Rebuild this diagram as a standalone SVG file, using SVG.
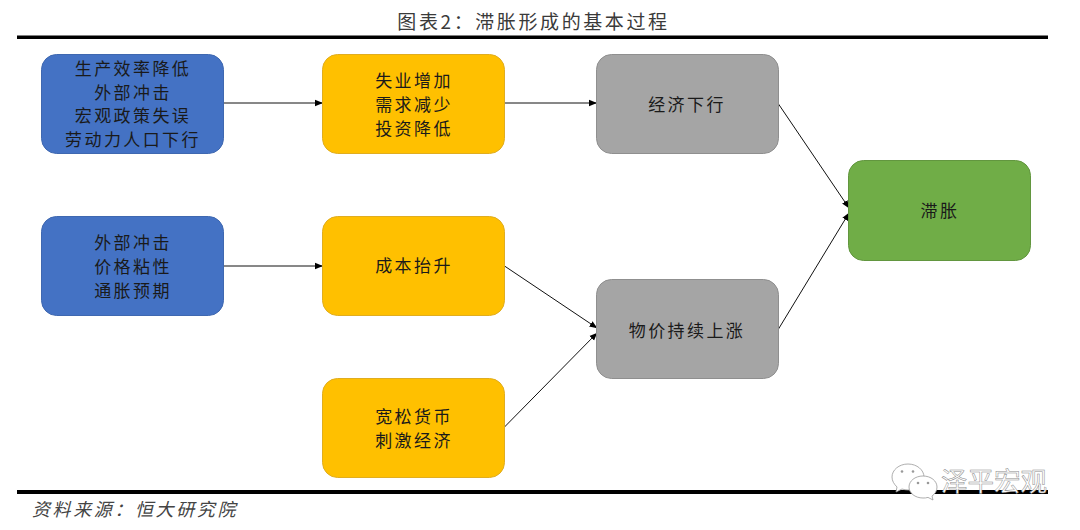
<svg xmlns="http://www.w3.org/2000/svg" width="1080" height="530" viewBox="0 0 1080 530">
<style>
text{font-family:"Noto Sans CJK SC","Liberation Serif",serif;font-weight:400}
.n{font-size:17px;letter-spacing:2.4px;text-anchor:middle;fill:#1a1a1a}
.b{stroke-width:1;rx:15px;ry:15px}
.blue{fill:#4472c4;stroke:#3f68b0}
.amber{fill:#ffc000;stroke:#e0ad20}
.gray{fill:#a5a5a5;stroke:#8f8f8f}
.green{fill:#70ad47;stroke:#62963f}
.c{fill:none;stroke:#111;stroke-width:1;marker-end:url(#a)}
.rule{fill:#000}
.wm{fill:#fff;stroke:#999;stroke-width:.8}
.eye{fill:#999}
</style>
<defs><marker id="a" viewBox="0 0 8 8" refX="7.5" refY="4" markerWidth="8" markerHeight="8" markerUnits="userSpaceOnUse" orient="auto"><path d="M0 .8L8 4L0 7.2Z" fill="#000"/></marker></defs>
<rect width="1080" height="530" fill="#fff"/>
<text x="533.500" y="29" font-size="19" letter-spacing="2.600" text-anchor="middle" fill="#3a3a3a">图表2：滞胀形成的基本过程</text>
<rect class="rule" x="17" y="35.500" width="1031" height="3.500"/>
<rect class="rule" x="17" y="490" width="1031" height="4"/>
<g id="connectors">
<path class="c" d="M223.500 103H322.500"/>
<path class="c" d="M504.500 103H596.500"/>
<path class="c" d="M223.500 266H322.500"/>
<path class="c" d="M504.500 266L597 328"/>
<path class="c" d="M504.500 427L597 333"/>
<path class="c" d="M778.500 104L849 208"/>
<path class="c" d="M778.500 329L849 213"/>
</g>
<g id="n1"><rect class="b blue" x="41.500" y="54.500" width="182" height="99"/><text class="n" x="133" y="75">生产效率降低</text><text class="n" x="133" y="98.500">外部冲击</text><text class="n" x="133" y="122">宏观政策失误</text><text class="n" x="133" y="146">劳动力人口下行</text></g>
<g id="n2"><rect class="b blue" x="41.500" y="216.500" width="182" height="99"/><text class="n" x="133" y="249">外部冲击</text><text class="n" x="133" y="272.500">价格粘性</text><text class="n" x="133" y="297">通胀预期</text></g>
<g id="n3"><rect class="b amber" x="322.500" y="54.500" width="182" height="99"/><text class="n" x="414" y="87">失业增加</text><text class="n" x="414" y="111">需求减少</text><text class="n" x="414" y="135">投资降低</text></g>
<g id="n4"><rect class="b amber" x="322.500" y="216.500" width="182" height="99"/><text class="n" x="414" y="272">成本抬升</text></g>
<g id="n5"><rect class="b amber" x="322.500" y="378.500" width="182" height="99"/><text class="n" x="414" y="423">宽松货币</text><text class="n" x="414" y="447">刺激经济</text></g>
<g id="n6"><rect class="b gray" x="596.500" y="54.500" width="182" height="99"/><text class="n" x="687" y="111">经济下行</text></g>
<g id="n7"><rect class="b gray" x="596.500" y="279.500" width="182" height="99"/><text class="n" x="687" y="337">物价持续上涨</text></g>
<g id="n8"><rect class="b green" x="848.500" y="160.500" width="182" height="100"/><text class="n" x="940" y="217">滞胀</text></g>
<text x="32" y="516" font-size="18" letter-spacing="2.600" font-style="italic" fill="#444">资料来源：恒大研究院</text>
<g id="watermark">
<path class="wm" d="M908 464c-9 0-16 6-16 13 0 4 2 7 5 10l-1 5 6-3c2 .6 4 1 6 1 9 0 16-6 16-13s-7-13-16-13Z"/>
<path class="wm" d="M923 476c-8 0-14 5-14 11s6 11 14 11c2 0 3 0 5-.6l5 2.600-1-4c3-2 5-5 5-9 0-6-6-11-14-11Z"/>
<circle class="eye" cx="902" cy="471.500" r="1.300"/><circle class="eye" cx="913" cy="471.500" r="1.300"/><circle class="eye" cx="918" cy="483" r="1.300"/><circle class="eye" cx="928" cy="483" r="1.300"/>
<text x="941" y="491" font-size="26.500" fill="#fff" stroke="#8a8a8a" stroke-width=".5">泽平宏观</text>
</g>
</svg>
